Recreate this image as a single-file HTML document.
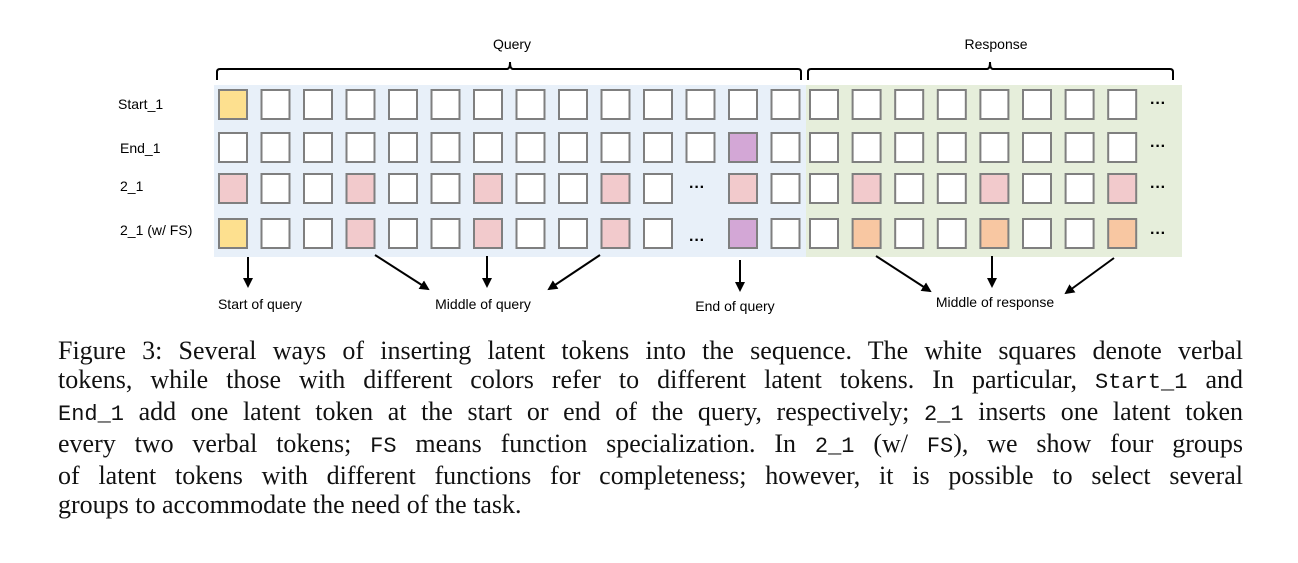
<!DOCTYPE html>
<html><head><meta charset="utf-8"><style>
body{margin:0;background:#fff;width:1298px;height:563px;overflow:hidden;position:relative}
svg{position:absolute;left:0;top:0}
.cap{position:absolute;left:58px;top:336px;width:1185px;font-family:"Liberation Serif",serif;font-size:26px;line-height:29px;color:#111}
.cap div{text-align:justify;text-align-last:justify;white-space:nowrap}
.cap div.last{text-align-last:left}
.m{font-family:"Liberation Mono",monospace;font-size:22px}
</style></head><body>
<svg width="1298" height="330" font-family="Liberation Sans, sans-serif" font-size="14">
<defs><marker id="a" markerWidth="10" markerHeight="10" refX="8" refY="5" orient="auto" markerUnits="userSpaceOnUse"><path d="M0,0 L10,5 L0,10 z" fill="#000"/></marker></defs>
<rect x="214" y="85" width="592" height="172" fill="#e8f0f9"/>
<rect x="806" y="85" width="376" height="172" fill="#e6eedb"/>
<g fill="none" stroke="#000" stroke-width="2">
<path d="M217,80 L217,72 Q217,69 220,69 L507,69 Q510,69 510,62 Q510,69 513,69 L798,69 Q801,69 801,72 L801,80"/>
<path d="M808,80 L808,72 Q808,69 811,69 L987,69 Q990,69 990,62 Q990,69 993,69 L1170,69 Q1173,69 1173,72 L1173,80"/>
</g>
<text x="512" y="49" text-anchor="middle">Query</text>
<text x="996" y="49" text-anchor="middle">Response</text>
<text x="118" y="109">Start_1</text>
<text x="120" y="153">End_1</text>
<text x="120" y="191">2_1</text>
<text x="120" y="235">2_1 (w/ FS)</text>
<g id="boxes" stroke="#7f7f7f" stroke-width="2"></g>
<g font-weight="bold" font-size="16">
<text x="1158" y="108" text-anchor="middle">···</text>
<text x="1158" y="151" text-anchor="middle">···</text>
<text x="1158" y="192" text-anchor="middle">···</text>
<text x="1158" y="238" text-anchor="middle">···</text>
<text x="697" y="192" text-anchor="middle">···</text>
<text x="697" y="245" text-anchor="middle">···</text>
</g>
<g stroke="#000" stroke-width="2" marker-end="url(#a)">
<line x1="248" y1="257" x2="248" y2="286"/>
<line x1="375" y1="255" x2="428" y2="289"/>
<line x1="487" y1="256" x2="487" y2="286"/>
<line x1="600" y1="255" x2="549" y2="289"/>
<line x1="740" y1="260" x2="740" y2="290"/>
<line x1="876" y1="256" x2="930" y2="291"/>
<line x1="992" y1="256" x2="992" y2="286"/>
<line x1="1114" y1="258" x2="1066" y2="293"/>
</g>
<text x="260" y="309" text-anchor="middle">Start of query</text>
<text x="483" y="309" text-anchor="middle">Middle of query</text>
<text x="735" y="311" text-anchor="middle">End of query</text>
<text x="995" y="307" text-anchor="middle">Middle of response</text>
</svg>
<script>
(function(){
var g=document.getElementById('boxes'),ns='http://www.w3.org/2000/svg';
var ys=[90,133,174,219],W='#fff',Y='#fde08f',P='#f2cacc',U='#d3a7d6',O='#f8c7a2';
var rows=[
 {0:Y},
 {12:U},
 {0:P,3:P,6:P,9:P,12:P,'r1':P,'r4':P,'r7':P,skip:11},
 {0:Y,3:P,6:P,9:P,12:U,'r1':O,'r4':O,'r7':O,skip:11}
];
rows.forEach(function(r,i){
 for(var c=0;c<14;c++){ if(r.skip===c)continue;
  var x=219+c*42.5; add(x,ys[i],r[c]||W);}
 for(var c=0;c<8;c++){ add(810+c*42.6,ys[i],r['r'+c]||W);}
});
function add(x,y,f){var e=document.createElementNS(ns,'rect');e.setAttribute('x',x);e.setAttribute('y',y);e.setAttribute('width',28);e.setAttribute('height',29);e.setAttribute('fill',f);g.appendChild(e);}
})();
</script>
<div class="cap">
<div>Figure 3: Several ways of inserting latent tokens into the sequence. The white squares denote verbal</div>
<div>tokens, while those with different colors refer to different latent tokens. In particular, <span class="m">Start_1</span> and</div>
<div><span class="m">End_1</span> add one latent token at the start or end of the query, respectively; <span class="m">2_1</span> inserts one latent token</div>
<div>every two verbal tokens; <span class="m">FS</span> means function specialization. In <span class="m">2_1</span> (w/ <span class="m">FS</span>), we show four groups</div>
<div>of latent tokens with different functions for completeness; however, it is possible to select several</div>
<div class="last">groups to accommodate the need of the task.</div>
</div>
</body></html>
